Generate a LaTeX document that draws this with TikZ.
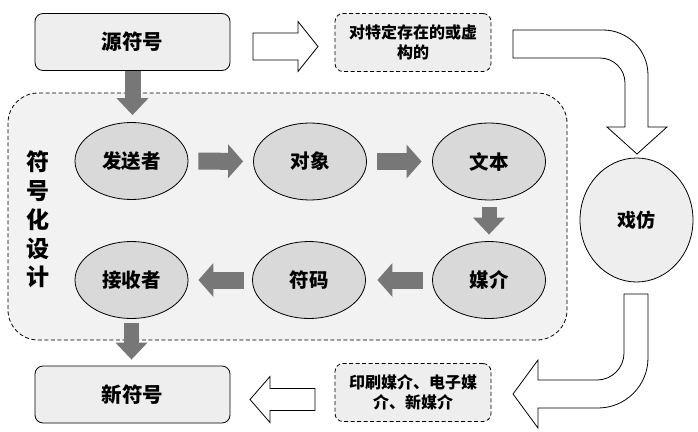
\documentclass[tikz,border=0pt]{standalone}
\usepackage{fontspec}
\setmainfont{Noto Sans CJK SC}
\usetikzlibrary{arrows.meta,shapes.geometric}
\definecolor{boxfill}{HTML}{EEEEEE}
\definecolor{regfill}{HTML}{F2F2F2}
\definecolor{ellfill}{HTML}{D9D9D9}
\definecolor{garrcol}{HTML}{777777}
\begin{document}
\begin{tikzpicture}[x=1pt,y=-1pt,
  line width=0.8pt,
  box/.style={draw, rounded corners=8pt, fill=boxfill, minimum width=195pt, minimum height=57pt, inner sep=0pt, font=\fontsize{20.5}{22}\selectfont\bfseries},
  dbox/.style={draw, dash pattern=on 4pt off 2.5pt, rounded corners=8pt, fill=boxfill, minimum width=156pt, minimum height=58pt, inner sep=0pt, align=center, font=\fontsize{16}{19.5}\selectfont\bfseries},
  region/.style={draw, dash pattern=on 4pt off 2.5pt, rounded corners=30pt, fill=regfill, minimum width=559pt, minimum height=247pt, inner sep=0pt},
  ell/.style={ellipse, draw, fill=ellfill, minimum width=113pt, minimum height=77pt, inner sep=0pt, font=\fontsize{19.5}{20}\selectfont\bfseries},
  garr/.style={draw=garrcol, line width=17pt, -{Triangle[length=15pt,width=33pt]}},
  garrv/.style={draw=garrcol, line width=16pt, -{Triangle[length=17pt,width=31pt]}},
  hollow/.style={draw, fill=white, line width=0.8pt, line join=miter}
]
\useasboundingbox (0,0) rectangle (698,431);
\fill[white] (0,0) rectangle (698,431);

% region
\node[region] (reg) at (287.5,216.5) {};
\node[align=center, font=\fontsize{23}{28.75}\selectfont\bfseries] (lab) at (38,219.5) {符\\号\\化\\设\\计};

% boxes
\node[box] (src) at (132.5,42) {源符号};
\node[box] (new) at (132.5,394.5) {新符号};
\node[dbox] (d1) at (413,42.5) {对特定存在的或虚\\构的};
\node[dbox] (d2) at (413,392.5) {印刷媒介、电子媒\\介、新媒介};

% ellipses
\node[ell] (e1) at (131.5,161) {发送者};
\node[ell] (e2) at (310,161.5) {对象};
\node[ell] (e3) at (489,161.5) {文本};
\node[ell] (e4) at (489,280) {媒介};
\node[ell] (e5) at (309,280) {符码};
\node[ell] (e6) at (131.5,280) {接收者};
\node[ellipse, draw, fill=boxfill, minimum width=113pt, minimum height=124pt, inner sep=0pt, font=\fontsize{19}{20}\selectfont\bfseries] (par) at (636.5,220) {戏仿};

% gray arrows
\draw[garrv, shorten >=7pt] (src.south) -- (src.south |- e1.north);
\draw[garr, shorten <=10pt, shorten >=10pt] (e1.east) -- (e2.west);
\draw[garr, shorten <=10.5pt, shorten >=10.5pt] (e2.east) -- (e3.west);
\draw[garrv, line width=15pt, shorten <=7pt, shorten >=6.5pt] (e3.south) -- (e4.north);
\draw[garr, shorten <=9.5pt, shorten >=11.5pt] (e4.west) -- (e5.east);
\draw[garr, shorten <=8.5pt, shorten >=10pt] (e5.west) -- (e6.east);
\draw[garrv, line width=15pt, shorten <=4.5pt, shorten >=6pt] (e6.south) -- (new.north -| e6.south);

% hollow arrows
\draw[hollow] (253,33) -- (298,33) -- (298,21.5) -- (318,46.5) -- (298,71.5) -- (298,60) -- (253,60) -- cycle;
\draw[hollow] (315,388.5) -- (270,388.5) -- (270,376.5) -- (250,399.5) -- (270,422.5) -- (270,410.5) -- (315,410.5) -- cycle;
\draw[hollow] (513,30) -- (603,30) .. controls (627.9,30) and (648,50.1) .. (648,75) -- (648,127) -- (667,127) -- (637,154) -- (607,127) -- (625,127) -- (625,83) .. controls (625,69.2) and (613.8,58) .. (600,58) -- (513,58) -- cycle;
\draw[hollow] (624,294) -- (648,294) -- (648,358) .. controls (648,385.6) and (625.6,408) .. (598,408) -- (538,408) -- (538,428) -- (513,394) -- (538,360) -- (538,380) -- (597,380) .. controls (611.9,380) and (624,367.9) .. (624,353) -- cycle;
\end{tikzpicture}
\end{document}
